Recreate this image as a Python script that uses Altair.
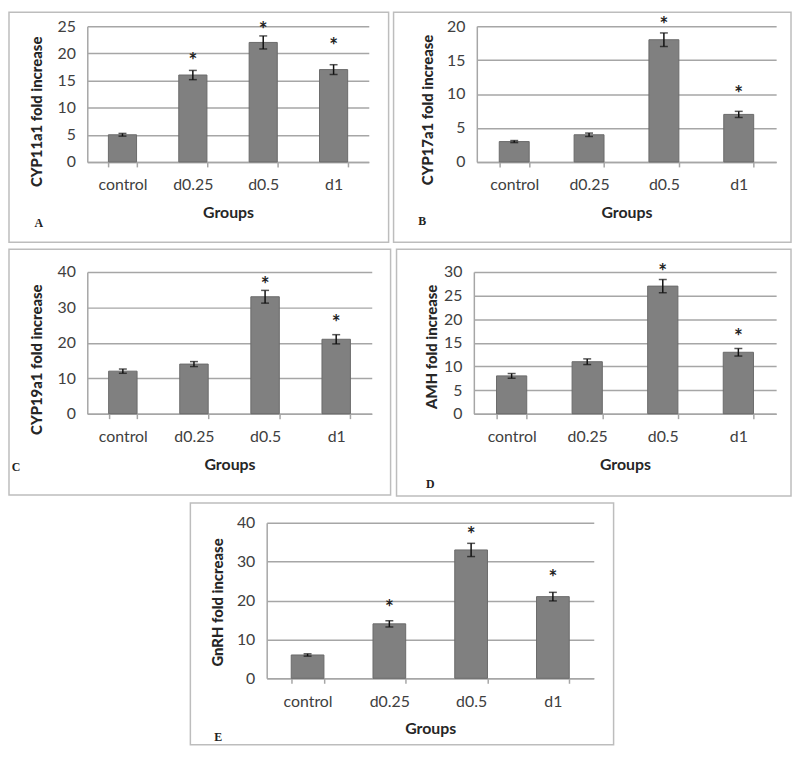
import altair as alt
import pandas as pd

groups = ["control", "d0.25", "d0.5", "d1"]

cyp11_values = [5, 16, 22, 17]
cyp11_errors = [0.25, 0.85, 1.2, 0.9]
cyp11_stars = [None, 19.3, 25.1, 22.1]

cyp17_values = [3, 4, 18, 7]
cyp17_errors = [0.15, 0.25, 1.0, 0.45]
cyp17_stars = [None, None, 20.7, 10.6]

cyp19_values = [12, 14, 33, 21]
cyp19_errors = [0.6, 0.7, 1.8, 1.3]
cyp19_stars = [None, None, 37.4, 26.7]

amh_values = [8, 11, 27, 13]
amh_errors = [0.5, 0.6, 1.4, 0.8]
amh_stars = [None, None, 30.9, 17.1]

gnrh_values = [6, 14, 33, 21]
gnrh_errors = [0.3, 0.8, 1.7, 1.1]
gnrh_stars = [None, 19.1, 37.9, 26.7]

y_titles = ["CYP11a1 fold increase", "CYP17a1 fold increase", "CYP19a1 fold increase",
            "AMH fold increase", "GnRH fold increase"]
y_ticks = [[0, 5, 10, 15, 20, 25], [0, 5, 10, 15, 20], [0, 10, 20, 30, 40],
           [0, 5, 10, 15, 20, 25, 30], [0, 10, 20, 30, 40]]
x_title = "Groups"
panel_letters = ["A", "B", "C", "D", "E"]

# layout (pixels, relative to each panel's plot area)
layouts = [
    dict(W=284, H=137, border=(-79, -14, 304, 218), ytitle=(-51, 86), letter=(-49, 199)),
    dict(W=302, H=137, border=(-84, -14, 317, 218), ytitle=(-50, 84), letter=(-55, 197)),
    dict(W=287, H=143, border=(-79, -23, 306, 225), ytitle=(-51, 88), letter=(-72, 197)),
    dict(W=305, H=143, border=(-78, -23, 320, 226), ytitle=(-43, 75), letter=(-44, 214)),
    dict(W=330, H=157, border=(-77, -20, 350, 224), ytitle=(-50, 80), letter=(-49, 216)),
]
E_SHIFT = 103  # empty space left of panel E

FONT = "Lato"
GRAY_LINE = "#a6a6a6"
TEXT = "#404040"


def panel(values, errors, stars, ytitle, ticks, letter, lay):
    W, H = lay["W"], lay["H"]
    df = pd.DataFrame({
        "group": groups,
        "value": values,
        "lo": [v - e for v, e in zip(values, errors)],
        "hi": [v + e for v, e in zip(values, errors)],
        "star": [float("nan") if s is None else s for s in stars],
    })
    xs = alt.Scale(domain=groups, paddingInner=0.6, paddingOuter=0.3)
    ys = alt.Scale(domain=[0, ticks[-1]], nice=False)

    x_axis = alt.Axis(
        title=x_title, labelAngle=0, labelFont=FONT, labelFontSize=16, labelColor=TEXT,
        labelBaseline="middle", labelPadding=18, tickBand="extent", ticks=True, tickSize=5,
        tickColor=GRAY_LINE, tickWidth=1.5, domainColor=GRAY_LINE, domainWidth=1.5, grid=False,
        titleFont=FONT, titleFontSize=16, titleFontWeight="bold", titleColor="#262626",
        titleX=W / 2, titleY=51, titleBaseline="middle", titleAlign="center",
    )
    tx, ty = lay["ytitle"]
    y_axis = alt.Axis(
        values=ticks, title=ytitle, labelFont=FONT, labelFontSize=16, labelColor=TEXT,
        labelPadding=12, ticks=False, domainColor=GRAY_LINE, domainWidth=1.5,
        grid=True, gridColor=GRAY_LINE, gridWidth=1.5,
        titleFont=FONT, titleFontSize=15, titleFontWeight=900, titleColor="#262626",
        titleX=tx, titleY=ty, titleAngle=270, titleBaseline="middle", titleAlign="center",
    )

    def X():
        return alt.X("group:N", scale=xs, axis=x_axis, sort=groups)

    def Y(field):
        return alt.Y(field, scale=ys, axis=y_axis)

    base = alt.Chart(df)
    bars = base.mark_bar(color="#808080", stroke="#6a6a6a", strokeWidth=1).encode(
        x=X(), y=Y("value:Q"))
    rule = base.mark_rule(color="#111111", strokeWidth=1.5).encode(
        x=X(), y=Y("lo:Q"), y2="hi:Q")
    cap_lo = base.mark_tick(color="#111111", thickness=1.5, size=8).encode(
        x=X(), y=Y("lo:Q"))
    cap_hi = base.mark_tick(color="#111111", thickness=1.5, size=8).encode(
        x=X(), y=Y("hi:Q"))
    star = base.transform_filter("isValid(datum.star) && isFinite(datum.star)").mark_text(
        text="*", font=FONT, fontSize=21, fontWeight="bold", color="#222222",
        baseline="middle", dy=5
    ).encode(x=X(), y=Y("star:Q"))

    bl, bt, br, bb = lay["border"]
    deco = alt.Chart(pd.DataFrame({"k": [0]}))
    border = deco.mark_rect(fill="transparent", stroke="#bdbdbd", strokeWidth=1.5).encode(
        x=alt.value(bl), x2=alt.value(br), y=alt.value(bt), y2=alt.value(bb))
    lx, ly = lay["letter"]
    lab = deco.mark_text(font="Liberation Serif", fontWeight="bold", fontSize=12,
                         color="#222222", align="center", baseline="middle").encode(
        x=alt.value(lx), y=alt.value(ly), text=alt.value(letter))

    return alt.layer(bars, rule, cap_lo, cap_hi, star, lab, border).properties(width=W, height=H)


series = [
    (cyp11_values, cyp11_errors, cyp11_stars),
    (cyp17_values, cyp17_errors, cyp17_stars),
    (cyp19_values, cyp19_errors, cyp19_stars),
    (amh_values, amh_errors, amh_stars),
    (gnrh_values, gnrh_errors, gnrh_stars),
]
panels = [panel(v, e, s, y_titles[i], y_ticks[i], panel_letters[i], layouts[i])
          for i, (v, e, s) in enumerate(series)]

spacer = alt.Chart(pd.DataFrame({"k": [0]})).mark_rect(fill="transparent", strokeWidth=0).encode(
    x=alt.value(0), x2=alt.value(E_SHIFT), y=alt.value(0), y2=alt.value(5)
).properties(width=E_SHIFT, height=5)

row1 = alt.hconcat(panels[0], panels[1], spacing=3)
row2 = alt.hconcat(panels[2], panels[3], spacing=4)
row3 = alt.hconcat(spacer, panels[4], spacing=0)

chart = alt.vconcat(row1, row2, row3, spacing=5).properties(
    padding=0, background="white"
).configure(font=FONT).configure_view(strokeWidth=0, stroke="transparent")

chart.save("out.html", embed_options={"renderer": "svg", "actions": False})
